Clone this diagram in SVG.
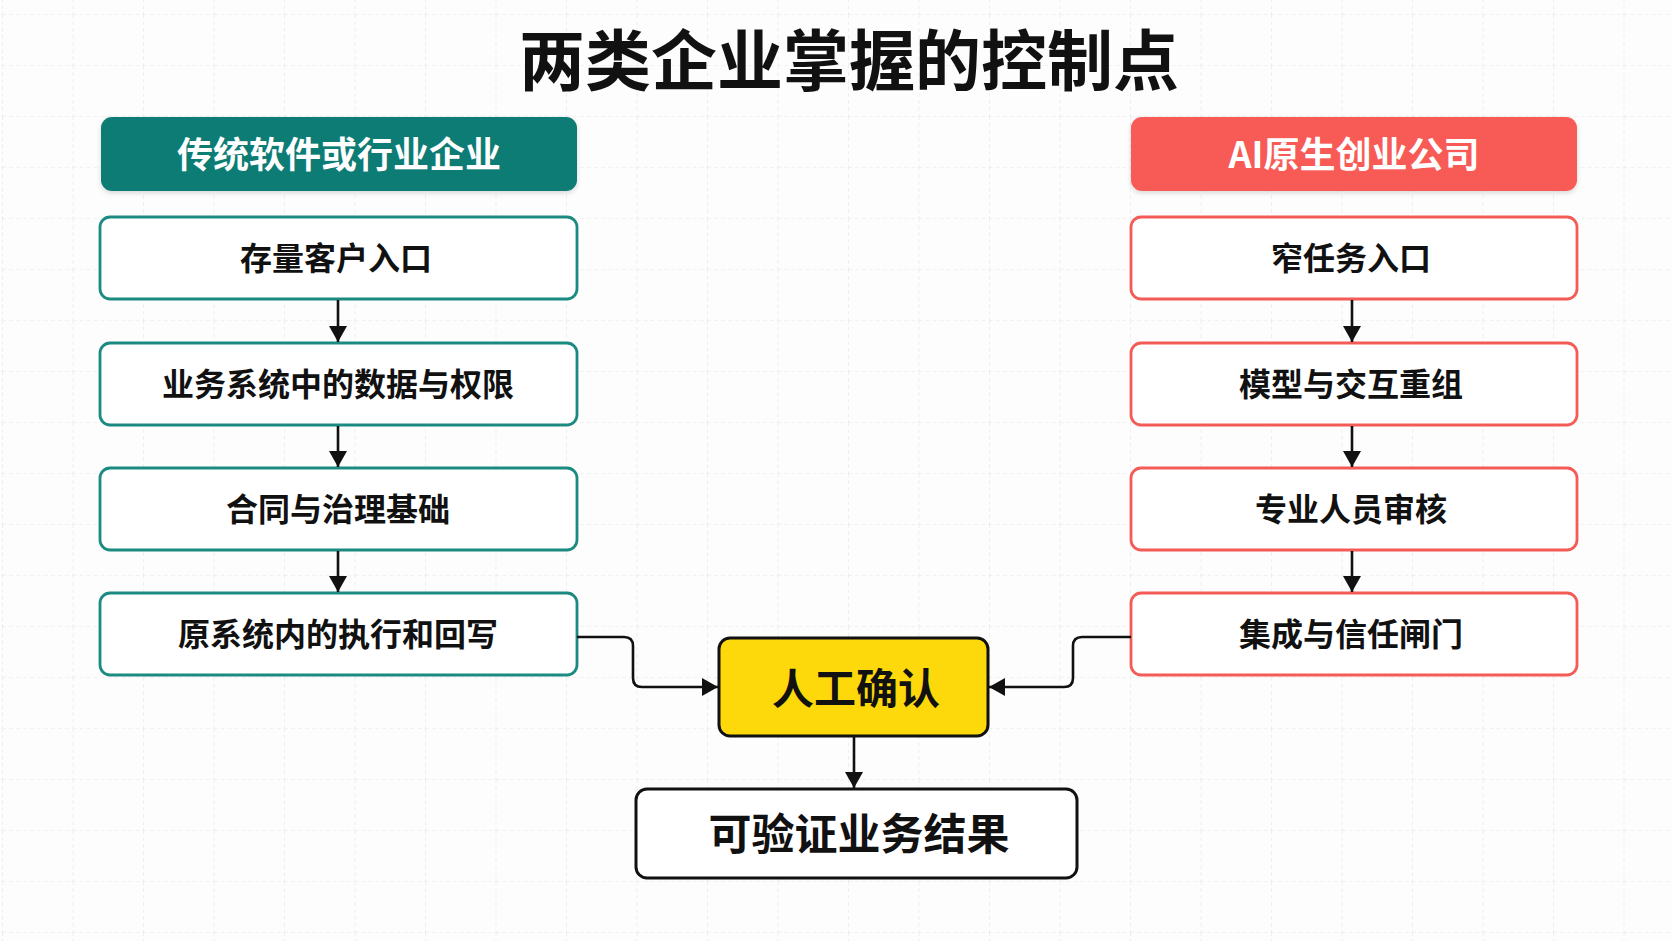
<svg xmlns="http://www.w3.org/2000/svg" width="1672" height="941" viewBox="0 0 1672 941">
<style>
.t{font-family:"Noto Sans CJK SC","Noto Sans",sans-serif;font-weight:700;text-anchor:middle;dominant-baseline:central}
.hd{fill:#ffffff;font-size:36px}
.bx{fill:#111111;font-size:32px}
.tealbox{fill:#ffffff;stroke:#1B8A80;stroke-width:2.8}
.redbox{fill:#ffffff;stroke:#F45A56;stroke-width:2.8}
.con{fill:none;stroke:#111111;stroke-width:2.6}
</style>
<defs>
<pattern id="grid" x="2" y="14" width="70.5" height="51" patternUnits="userSpaceOnUse">
<path d="M0,0 V51 M0,0 H70.5" fill="none" stroke="#e6e6e6" stroke-width="1.2" stroke-dasharray="4 3"/>
</pattern>
<marker id="arr" markerWidth="18" markerHeight="20" refX="16" refY="9" orient="auto" markerUnits="userSpaceOnUse">
<path d="M0,0 L16,9 L0,18 Z" fill="#111111"/>
</marker>
<filter id="sh" x="-5%" y="-20%" width="110%" height="150%">
<feDropShadow dx="0" dy="2" stdDeviation="2.5" flood-color="#000" flood-opacity="0.15"/>
</filter>
</defs>
<rect x="0" y="0" width="1672" height="941" fill="#fdfdfd"/>
<rect x="0" y="0" width="1672" height="941" fill="url(#grid)"/>

<text class="t" x="849" y="56" font-size="66" font-weight="900" fill="#111111">两类企业掌握的控制点</text>

<g id="left-header">
<rect x="101" y="117" width="476" height="74" rx="11" fill="#107C74" filter="url(#sh)"/>
<text class="t hd" x="339" y="152">传统软件或行业企业</text>
</g>
<g id="right-header">
<rect x="1131" y="117" width="446" height="74" rx="11" fill="#F85A54" filter="url(#sh)"/>
<text class="t hd" x="1354" y="152">AI原生创业公司</text>
</g>

<g id="L1"><rect class="tealbox" x="100" y="217" width="477" height="82" rx="10"/><text class="t bx" x="336" y="256">存量客户入口</text></g>
<g id="L2"><rect class="tealbox" x="100" y="343" width="477" height="82" rx="10"/><text class="t bx" x="338" y="382">业务系统中的数据与权限</text></g>
<g id="L3"><rect class="tealbox" x="100" y="468" width="477" height="82" rx="10"/><text class="t bx" x="338" y="507">合同与治理基础</text></g>
<g id="L4"><rect class="tealbox" x="100" y="593" width="477" height="82" rx="10"/><text class="t bx" x="338" y="632">原系统内的执行和回写</text></g>

<g id="R1"><rect class="redbox" x="1131" y="217" width="446" height="82" rx="10"/><text class="t bx" x="1351" y="256">窄任务入口</text></g>
<g id="R2"><rect class="redbox" x="1131" y="343" width="446" height="82" rx="10"/><text class="t bx" x="1351" y="382">模型与交互重组</text></g>
<g id="R3"><rect class="redbox" x="1131" y="468" width="446" height="82" rx="10"/><text class="t bx" x="1351" y="507">专业人员审核</text></g>
<g id="R4"><rect class="redbox" x="1131" y="593" width="446" height="82" rx="10"/><text class="t bx" x="1351" y="632">集成与信任闸门</text></g>

<g id="confirm"><rect x="719" y="638" width="269" height="98" rx="11" fill="#FDD80A" stroke="#111111" stroke-width="3"/><text class="t" x="856" y="685" font-size="42" fill="#111111">人工确认</text></g>
<g id="result"><rect x="636" y="789" width="441" height="89" rx="11" fill="#ffffff" stroke="#111111" stroke-width="3"/><text class="t" x="859" y="831" font-size="43" fill="#111111">可验证业务结果</text></g>

<g id="connectors">
<path class="con" d="M338,300 V342" marker-end="url(#arr)"/>
<path class="con" d="M338,426 V467" marker-end="url(#arr)"/>
<path class="con" d="M338,551 V592" marker-end="url(#arr)"/>
<path class="con" d="M1352,300 V342" marker-end="url(#arr)"/>
<path class="con" d="M1352,426 V467" marker-end="url(#arr)"/>
<path class="con" d="M1352,551 V592" marker-end="url(#arr)"/>
<path class="con" d="M577,637 H624 Q633,637 633,646 V678 Q633,687 642,687 H718" marker-end="url(#arr)"/>
<path class="con" d="M1131,637 H1082 Q1073,637 1073,646 V678 Q1073,687 1064,687 H989" marker-end="url(#arr)"/>
<path class="con" d="M854,737 V788" marker-end="url(#arr)"/>
</g>
</svg>
